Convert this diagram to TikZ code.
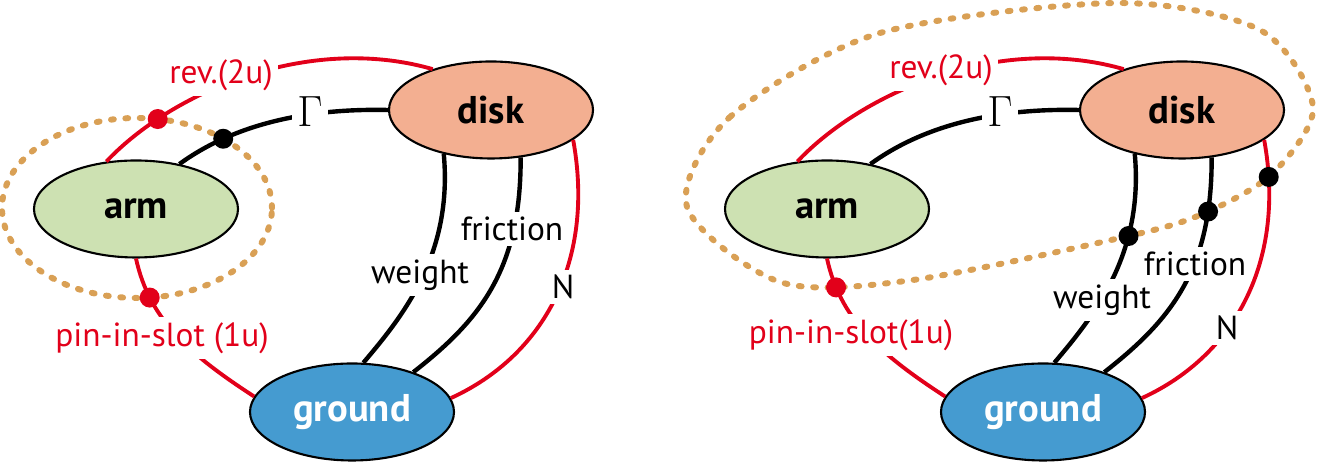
\documentclass[tikz,border=0pt]{standalone}
\usepackage{fontspec}
\setmainfont{PT Sans}
\usetikzlibrary{shapes.geometric,intersections}
\definecolor{diskfill}{RGB}{243,175,145}
\definecolor{armfill}{RGB}{205,225,178}
\definecolor{groundfill}{RGB}{69,155,208}
\definecolor{jointred}{RGB}{226,0,26}
\definecolor{cuttan}{RGB}{217,160,85}
\begin{document}
\begin{tikzpicture}[line join=round,
  body/.style={draw,ellipse,line width=1.2pt,minimum width=4.08cm,minimum height=1.94cm,inner sep=0pt,font=\fontsize{22}{26}\selectfont\bfseries},
  force/.style={line width=2.5pt},
  joint/.style={line width=2.2pt,draw=jointred},
  lbl/.style={fill=white,inner sep=3pt,font=\fontsize{19}{22}\selectfont},
  gam/.style={fill=white,inner sep=3pt,font=\fontsize{25}{30}\selectfont},
  cut/.style={draw=cuttan,line width=3.4pt,line cap=round,dash pattern=on 1.6pt off 6.6pt},
  dotr/.style={fill=jointred},
  dotb/.style={fill=black}]
\useasboundingbox (0,0) rectangle (26.36,9.28);
\node[body,fill=armfill] (armL) at (2.72,5.10) {arm};
\node[body,fill=diskfill] (diskL) at (9.82,7.08) {disk};
\node[body,fill=groundfill,text=white] (groundL) at (7.04,1.04) {ground};
\draw[joint,name path=revL] (armL.122) .. controls (3.42,7.42) and (6.14,8.62) .. (diskL.145);
\draw[force,name path=gamL] (armL.46) .. controls (4.58,6.72) and (5.96,7.12) .. (diskL.west);
\draw[force] (diskL.223) .. controls (9.06,4.18) and (8.04,2.94) .. (groundL.77);
\draw[force] (diskL.302) .. controls (10.42,3.88) and (9.60,2.88) .. (groundL.33);
\draw[joint] (diskL.340) .. controls (11.90,4.08) and (10.90,2.18) .. (groundL.8);
\draw[joint,name path=pinL] (armL.south) .. controls (2.98,2.92) and (3.74,2.22) .. (groundL.171);
\node[lbl,text=jointred] (revlblL) at (4.42,7.78) {rev.(2u)};
\node[gam] (gamlblL) at (6.20,7.04) {$\Gamma$};
\node[lbl] (wlblL) at (8.40,3.78) {weight};
\node[lbl] (flblL) at (10.24,4.70) {friction};
\node[lbl] (nlblL) at (11.26,3.54) {N};
\node[lbl,text=jointred] (pinlblL) at (3.24,2.52) {pin-in-slot (1u)};
\draw[cut,name path=cutL] (2.74,5.12) ellipse [x radius=2.70,y radius=1.80];
\fill[dotr,name intersections={of=revL and cutL}] (intersection-1) circle (0.2);
\fill[dotb,name intersections={of=gamL and cutL}] (intersection-1) circle (0.2);
\fill[dotr,name intersections={of=pinL and cutL}] (intersection-1) circle (0.2);
\begin{scope}[xshift=13.82cm]
\node[body,fill=armfill] (armR) at (2.72,5.10) {arm};
\node[body,fill=diskfill] (diskR) at (9.82,7.08) {disk};
\node[body,fill=groundfill,text=white] (groundR) at (7.04,1.04) {ground};
\draw[joint] (armR.122) .. controls (3.42,7.42) and (6.14,8.62) .. (diskR.145);
\draw[force] (armR.46) .. controls (4.58,6.72) and (5.96,7.12) .. (diskR.west);
\draw[force,name path=wR] (diskR.223) .. controls (9.06,4.18) and (8.04,2.94) .. (groundR.77);
\draw[force,name path=fR] (diskR.302) .. controls (10.42,3.88) and (9.60,2.88) .. (groundR.33);
\draw[joint,name path=nR] (diskR.340) .. controls (11.90,4.08) and (10.90,2.18) .. (groundR.8);
\draw[joint,name path=pinR] (armR.south) .. controls (2.98,2.92) and (3.74,2.22) .. (groundR.171);
\node[lbl,text=jointred] (revlblR) at (5.00,7.88) {rev.(2u)};
\node[gam] (gamlblR) at (6.18,7.04) {$\Gamma$};
\node[lbl] (wlblR) at (8.22,3.28) {weight};
\node[lbl] (flblR) at (10.08,4.00) {friction};
\node[lbl] (nlblR) at (10.72,2.72) {N};
\node[lbl,text=jointred] (pinlblR) at (3.20,2.58) {pin-in-slot(1u)};
\draw[cut,name path=cutR] plot[smooth cycle] coordinates {(-0.08,5.14) (0.78,6.94) (3.78,8.62) (8.52,9.22) (11.38,8.68) (12.44,7.14) (11.64,5.82) (10.32,5.04) (8.84,4.58) (4.44,3.68) (1.78,3.64)};
\fill[dotr,name intersections={of=pinR and cutR}] (intersection-1) circle (0.2);
\fill[dotb,name intersections={of=wR and cutR}] (intersection-1) circle (0.2);
\fill[dotb,name intersections={of=fR and cutR}] (intersection-1) circle (0.2);
\fill[dotb,name intersections={of=nR and cutR}] (intersection-1) circle (0.2);
\end{scope}
\end{tikzpicture}
\end{document}
